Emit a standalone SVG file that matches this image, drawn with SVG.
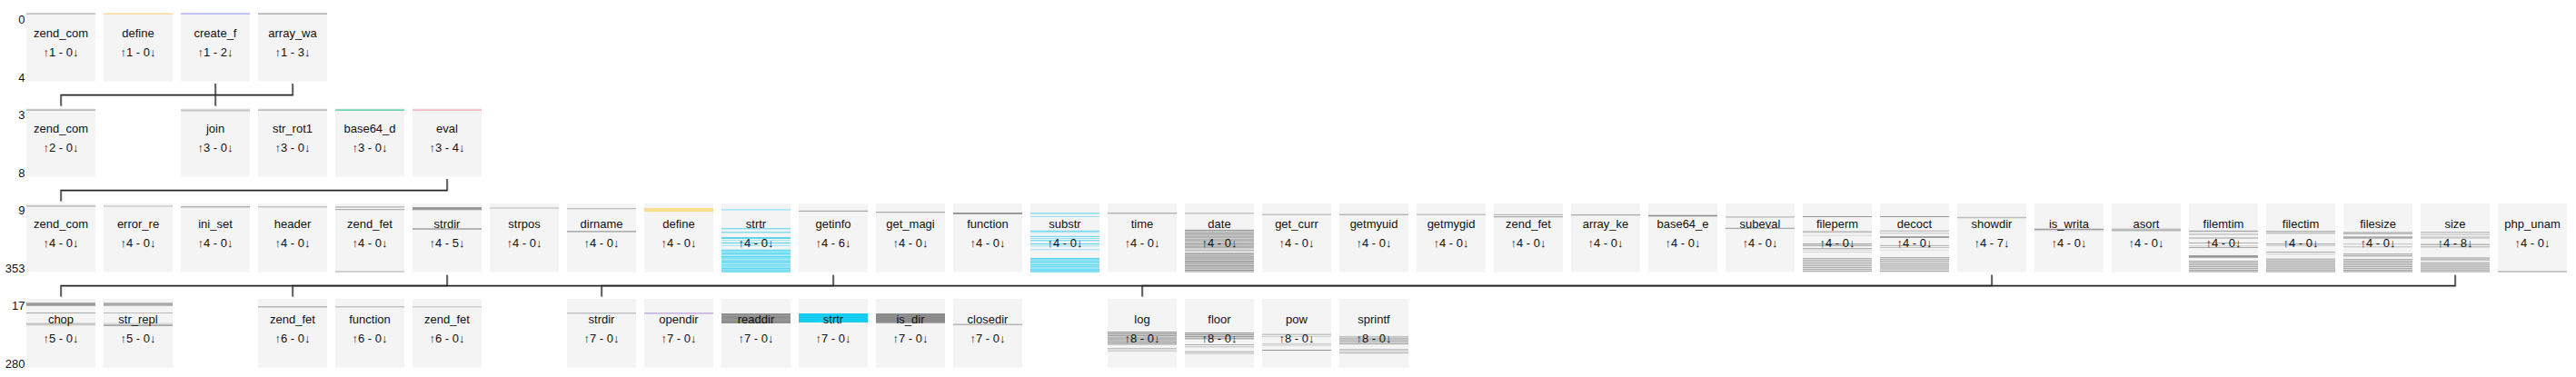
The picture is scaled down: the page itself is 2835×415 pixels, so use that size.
<svg xmlns="http://www.w3.org/2000/svg" width="2835" height="415" viewBox="0 0 2835 415">
<style>
.bg{fill:#f4f4f4}
text{font-family:"Liberation Sans",Arial,sans-serif;font-size:13px;fill:#111}
.nm,.ct{text-anchor:middle}
.rk{text-anchor:end}
.s{fill:none}
.cn path{fill:none;stroke:#222;stroke-width:1.3}
.cs path{fill:none;stroke:#bdbdbd;stroke-width:1}
</style>
<rect width="2835" height="415" fill="#fff"/>
<g id="rank-labels">
<text class="rk" x="27.5" y="25.5">0</text><text class="rk" x="27.5" y="90">4</text>
<text class="rk" x="27.5" y="130.5">3</text><text class="rk" x="27.5" y="195">8</text>
<text class="rk" x="27.5" y="235.5">9</text><text class="rk" x="27.5" y="300">353</text>
<text class="rk" x="27.5" y="340.5">17</text><text class="rk" x="27.5" y="405">280</text>
</g>
<g id="connectors">
<g class="cs" transform="translate(1,1)">
<path d="M322 92V104.5H67V116.5"/><path d="M237 92V116.5"/>
<path d="M492 197V209.5H67V221.5"/>
<path d="M492 302.5V314.5H67V326.5"/><path d="M917 302.5V314.5H322V326.5"/>
<path d="M2192 302.5V314.5H662V326.5"/><path d="M2702 302.5V314.5H1257V326.5"/>
</g>
<g class="cn">
<path d="M322 92V104.5H67V116.5"/><path d="M237 92V116.5"/>
<path d="M492 197V209.5H67V221.5"/>
<path d="M492 302.5V314.5H67V326.5"/><path d="M917 302.5V314.5H322V326.5"/>
<path d="M2192 302.5V314.5H662V326.5"/><path d="M2702 302.5V314.5H1257V326.5"/>
</g>
</g>

<!-- row 1 -->
<g id="r1c0-zend_com" class="node" transform="translate(29,14)"><rect class="bg" width="76" height="75.5"/><path class="s" d="M0 1.1H76" stroke="#b0b0b0" stroke-width="1.3"/><text class="nm" x="38" y="27">zend_com</text><text class="ct" x="38" y="48">↑1 - 0↓</text></g>
<g id="r1c1-define" class="node" transform="translate(114,14)"><rect class="bg" width="76" height="75.5"/><path class="s" d="M0 1.1H76" stroke="#f8d98a" stroke-width="1.3"/><text class="nm" x="38" y="27">define</text><text class="ct" x="38" y="48">↑1 - 0↓</text></g>
<g id="r1c2-create_f" class="node" transform="translate(199,14)"><rect class="bg" width="76" height="75.5"/><path class="s" d="M0 1.1H76" stroke="#a8a8f0" stroke-width="1.3"/><text class="nm" x="38" y="27">create_f</text><text class="ct" x="38" y="48">↑1 - 2↓</text></g>
<g id="r1c3-array_wa" class="node" transform="translate(284,14)"><rect class="bg" width="76" height="75.5"/><path class="s" d="M0 1.1H76" stroke="#a0a0a0" stroke-width="1.3"/><text class="nm" x="38" y="27">array_wa</text><text class="ct" x="38" y="48">↑1 - 3↓</text></g>

<!-- row 2 -->
<g id="r2c0-zend_com" class="node" transform="translate(29,119)"><rect class="bg" width="76" height="75.5"/><path class="s" d="M0 2.1H76" stroke="#a0a0a0" stroke-width="1.3"/><text class="nm" x="38" y="27">zend_com</text><text class="ct" x="38" y="48">↑2 - 0↓</text></g>
<g id="r2c2-join" class="node" transform="translate(199,119)"><rect class="bg" width="76" height="75.5"/><path class="s" d="M0 2.4H76" stroke="#c4c4c4" stroke-width="2"/><text class="nm" x="38" y="27">join</text><text class="ct" x="38" y="48">↑3 - 0↓</text></g>
<g id="r2c3-str_rot1" class="node" transform="translate(284,119)"><rect class="bg" width="76" height="75.5"/><path class="s" d="M0 2.1H76" stroke="#a8a8a8" stroke-width="1.3"/><text class="nm" x="38" y="27">str_rot1</text><text class="ct" x="38" y="48">↑3 - 0↓</text></g>
<g id="r2c4-base64_d" class="node" transform="translate(369,119)"><rect class="bg" width="76" height="75.5"/><path class="s" d="M0 2.1H76" stroke="#40c8a0" stroke-width="1.3"/><text class="nm" x="38" y="27">base64_d</text><text class="ct" x="38" y="48">↑3 - 0↓</text></g>
<g id="r2c5-eval" class="node" transform="translate(454,119)"><rect class="bg" width="76" height="75.5"/><path class="s" d="M0 2.1H76" stroke="#f4a4b8" stroke-width="1.3"/><text class="nm" x="38" y="27">eval</text><text class="ct" x="38" y="48">↑3 - 4↓</text></g>

<!-- row 3 -->
<g id="r3c0-zend_com" class="node" transform="translate(29,224)"><rect class="bg" width="76" height="75.5"/><path class="s" d="M0 2.9H76" stroke="#b0b0b0" stroke-width="1.3"/><text class="nm" x="38" y="27">zend_com</text><text class="ct" x="38" y="48">↑4 - 0↓</text></g>
<g id="r3c1-error_re" class="node" transform="translate(114,224)"><rect class="bg" width="76" height="75.5"/><path class="s" d="M0 3H76" stroke="#cccccc" stroke-width="1.5"/><text class="nm" x="38" y="27">error_re</text><text class="ct" x="38" y="48">↑4 - 0↓</text></g>
<g id="r3c2-ini_set" class="node" transform="translate(199,224)"><rect class="bg" width="76" height="75.5"/><path class="s" d="M0 3.8H76" stroke="#909090" stroke-width="1"/><text class="nm" x="38" y="27">ini_set</text><text class="ct" x="38" y="48">↑4 - 0↓</text></g>
<g id="r3c3-header" class="node" transform="translate(284,224)"><rect class="bg" width="76" height="75.5"/><path class="s" d="M0 3.8H76" stroke="#a8a8a8" stroke-width="1"/><text class="nm" x="38" y="27">header</text><text class="ct" x="38" y="48">↑4 - 0↓</text></g>
<g id="r3c4-zend_fet" class="node" transform="translate(369,224)"><rect class="bg" width="76" height="75.5"/><path class="s" d="M0 3.9H76M0 6.6H76" stroke="#b0b0b0" stroke-width="1.2"/><path class="s" d="M0 75H76" stroke="#aaaaaa" stroke-width="1"/><text class="nm" x="38" y="27">zend_fet</text><text class="ct" x="38" y="48">↑4 - 0↓</text></g>
<g id="r3c5-strdir" class="node" transform="translate(454,224)"><rect class="bg" width="76" height="75.5"/><path class="s" d="M0 5.6H76" stroke="#9a9a9a" stroke-width="3.3"/><path class="s" d="M0 28H76" stroke="#a0a0a0" stroke-width="1.5"/><text class="nm" x="38" y="27">strdir</text><text class="ct" x="38" y="48">↑4 - 5↓</text></g>
<g id="r3c6-strpos" class="node" transform="translate(539,224)"><rect class="bg" width="76" height="75.5"/><path class="s" d="M0 5H76" stroke="#cccccc" stroke-width="1.5"/><text class="nm" x="38" y="27">strpos</text><text class="ct" x="38" y="48">↑4 - 0↓</text></g>
<g id="r3c7-dirname" class="node" transform="translate(624,224)"><rect class="bg" width="76" height="75.5"/><path class="s" d="M0 5.6H76" stroke="#bbbbbb" stroke-width="1.2"/><path class="s" d="M0 30.9H76" stroke="#999999" stroke-width="1.2"/><text class="nm" x="38" y="27">dirname</text><text class="ct" x="38" y="48">↑4 - 0↓</text></g>
<g id="r3c8-define" class="node" transform="translate(709,224)"><rect class="bg" width="76" height="75.5"/><path class="s" d="M0 7H76" stroke="#f8dc8a" stroke-width="4"/><text class="nm" x="38" y="27">define</text><text class="ct" x="38" y="48">↑4 - 0↓</text></g>
<g id="r3c9-strtr" class="node" transform="translate(794,224)"><rect class="bg" width="76" height="75.5"/><rect y="50.5" width="76" height="25" fill="#cdf2fb"/><path class="s" d="M0 6.9H76M0 40.8H76M0 46.2H76M0 52.5H76M0 57H76M0 61.3H76M0 65.5H76M0 70.2H76M0 74.3H76" stroke="#8fe2f5" stroke-width="1.1"/><path class="s" d="M0 27.8H76M0 31.8H76M0 43.5H76M0 51.3H76M0 54H76M0 55.6H76M0 58.5H76M0 60H76M0 63H76M0 64.3H76M0 67.2H76M0 69H76M0 71.6H76M0 73.1H76M0 75.1H76" stroke="#3fcfee" stroke-width="0.9"/><path class="s" d="M0 38H76" stroke="#30ccea" stroke-width="1.5"/><text class="nm" x="38" y="27">strtr</text><text class="ct" x="38" y="48">↑4 - 0↓</text></g>
<g id="r3c10-getinfo" class="node" transform="translate(879,224)"><rect class="bg" width="76" height="75.5"/><path class="s" d="M0 8.4H76" stroke="#aaaaaa" stroke-width="1.3"/><text class="nm" x="38" y="27">getinfo</text><text class="ct" x="38" y="48">↑4 - 6↓</text></g>
<g id="r3c11-get_magi" class="node" transform="translate(964,224)"><rect class="bg" width="76" height="75.5"/><path class="s" d="M0 9.7H76" stroke="#aaaaaa" stroke-width="1.3"/><text class="nm" x="38" y="27">get_magi</text><text class="ct" x="38" y="48">↑4 - 0↓</text></g>
<g id="r3c12-function" class="node" transform="translate(1049,224)"><rect class="bg" width="76" height="75.5"/><path class="s" d="M0 10.9H76" stroke="#8c8c8c" stroke-width="1.7"/><text class="nm" x="38" y="27">function</text><text class="ct" x="38" y="48">↑4 - 0↓</text></g>
<g id="r3c13-substr" class="node" transform="translate(1134,224)"><rect class="bg" width="76" height="75.5"/><rect y="60" width="76" height="15.5" fill="#cdf2fb"/><path class="s" d="M0 14.4H76M0 31.8H76M0 38.5H76M0 46.8H76M0 50.8H76M0 61.5H76M0 66.2H76M0 70.8H76" stroke="#8fe2f5" stroke-width="1"/><path class="s" d="M0 10.9H76M0 30.3H76M0 36.3H76M0 40.8H76M0 44.5H76M0 60.5H76M0 63H76M0 64.7H76M0 67.7H76M0 69.3H76M0 72.2H76M0 73.8H76M0 75.1H76" stroke="#3fcfee" stroke-width="0.9"/><text class="nm" x="38" y="27">substr</text><text class="ct" x="38" y="48">↑4 - 0↓</text></g>
<g id="r3c14-time" class="node" transform="translate(1219,224)"><rect class="bg" width="76" height="75.5"/><path class="s" d="M0 10.8H76" stroke="#999999" stroke-width="1"/><text class="nm" x="38" y="27">time</text><text class="ct" x="38" y="48">↑4 - 0↓</text></g>
<g id="r3c15-date" class="node" transform="translate(1304,224)"><rect class="bg" width="76" height="75.5"/><rect y="28.7" width="76" height="46.8" fill="#cccccc"/><rect y="50" width="76" height="4" fill="#dedede"/><path class="s" d="M0 10.9H76" stroke="#bbbbbb" stroke-width="1.3"/><path class="s" d="M0 29.5H76M0 33.2H76M0 37H76M0 40H76M0 44.5H76M0 48H76M0 55.5H76M0 58H76M0 61H76M0 63.5H76M0 66H76M0 68.5H76M0 71H76M0 73.5H76" stroke="#9a9a9a" stroke-width="1"/><path class="s" d="M0 31.3H76M0 35H76M0 42H76M0 46.3H76M0 51.5H76M0 59.6H76M0 64.8H76M0 70H76M0 75H76" stroke="#b4b4b4" stroke-width="1"/><text class="nm" x="38" y="27">date</text><text class="ct" x="38" y="48">↑4 - 0↓</text></g>
<g id="r3c16-get_curr" class="node" transform="translate(1389,224)"><rect class="bg" width="76" height="75.5"/><path class="s" d="M0 12.2H76" stroke="#aaaaaa" stroke-width="1"/><text class="nm" x="38" y="27">get_curr</text><text class="ct" x="38" y="48">↑4 - 0↓</text></g>
<g id="r3c17-getmyuid" class="node" transform="translate(1474,224)"><rect class="bg" width="76" height="75.5"/><path class="s" d="M0 12.2H76" stroke="#999999" stroke-width="1"/><text class="nm" x="38" y="27">getmyuid</text><text class="ct" x="38" y="48">↑4 - 0↓</text></g>
<g id="r3c18-getmygid" class="node" transform="translate(1559,224)"><rect class="bg" width="76" height="75.5"/><path class="s" d="M0 12.2H76" stroke="#aaaaaa" stroke-width="1"/><text class="nm" x="38" y="27">getmygid</text><text class="ct" x="38" y="48">↑4 - 0↓</text></g>
<g id="r3c19-zend_fet" class="node" transform="translate(1644,224)"><rect class="bg" width="76" height="75.5"/><path class="s" d="M0 12.3H76" stroke="#bbbbbb" stroke-width="1.2"/><path class="s" d="M0 14.6H76" stroke="#aaaaaa" stroke-width="1.2"/><text class="nm" x="38" y="27">zend_fet</text><text class="ct" x="38" y="48">↑4 - 0↓</text></g>
<g id="r3c20-array_ke" class="node" transform="translate(1729,224)"><rect class="bg" width="76" height="75.5"/><path class="s" d="M0 12.7H76" stroke="#aaaaaa" stroke-width="1.3"/><text class="nm" x="38" y="27">array_ke</text><text class="ct" x="38" y="48">↑4 - 0↓</text></g>
<g id="r3c21-base64_e" class="node" transform="translate(1814,224)"><rect class="bg" width="76" height="75.5"/><path class="s" d="M0 13.5H76" stroke="#888888" stroke-width="1.7"/><text class="nm" x="38" y="27">base64_e</text><text class="ct" x="38" y="48">↑4 - 0↓</text></g>
<g id="r3c22-subeval" class="node" transform="translate(1899,224)"><rect class="bg" width="76" height="75.5"/><path class="s" d="M0 14.8H76" stroke="#c8c8c8" stroke-width="1.7"/><path class="s" d="M0 27.3H76" stroke="#aaaaaa" stroke-width="1.3"/><text class="nm" x="38" y="27">subeval</text><text class="ct" x="38" y="48">↑4 - 0↓</text></g>
<g id="r3c23-fileperm" class="node" transform="translate(1984,224)"><rect class="bg" width="76" height="75.5"/><rect y="60" width="76" height="15.5" fill="#e0e0e0"/><path class="s" d="M0 14.5H76" stroke="#999999" stroke-width="1"/><path class="s" d="M0 31.3H76" stroke="#c0c0c0" stroke-width="2"/><path class="s" d="M0 35.2H76M0 53.5H76" stroke="#d8d8d8" stroke-width="1"/><path class="s" d="M0 44.6H76" stroke="#a0a0a0" stroke-width="1.3"/><path class="s" d="M0 46.5H76M0 49.5H76M0 60.5H76M0 62.5H76M0 64.5H76M0 66.5H76M0 68.5H76M0 70.5H76M0 72.5H76M0 74.5H76" stroke="#b0b0b0" stroke-width="1"/><path class="s" d="M0 51H76" stroke="#cccccc" stroke-width="1"/><text class="nm" x="38" y="27">fileperm</text><text class="ct" x="38" y="48">↑4 - 0↓</text></g>
<g id="r3c24-decoct" class="node" transform="translate(2069,224)"><rect class="bg" width="76" height="75.5"/><rect y="59" width="76" height="16.5" fill="#e0e0e0"/><path class="s" d="M0 14.5H76" stroke="#999999" stroke-width="1"/><path class="s" d="M0 30.2H76M0 46.4H76M0 59.5H76M0 61.5H76M0 63.5H76M0 66H76M0 68H76M0 70H76M0 72H76M0 74.5H76" stroke="#aeaeae" stroke-width="1"/><path class="s" d="M0 32.8H76M0 48.5H76" stroke="#c4c4c4" stroke-width="1"/><path class="s" d="M0 37H76" stroke="#888888" stroke-width="1.3"/><path class="s" d="M0 51.2H76" stroke="#dddddd" stroke-width="1"/><text class="nm" x="38" y="27">decoct</text><text class="ct" x="38" y="48">↑4 - 0↓</text></g>
<g id="r3c25-showdir" class="node" transform="translate(2154,224)"><rect class="bg" width="76" height="75.5"/><path class="s" d="M0 15.5H76" stroke="#bbbbbb" stroke-width="1.7"/><text class="nm" x="38" y="27">showdir</text><text class="ct" x="38" y="48">↑4 - 7↓</text></g>
<g id="r3c26-is_writa" class="node" transform="translate(2239,224)"><rect class="bg" width="76" height="75.5"/><path class="s" d="M0 28.3H76" stroke="#999999" stroke-width="1.3"/><path class="s" d="M0 29.8H76" stroke="#cccccc" stroke-width="1"/><text class="nm" x="38" y="27">is_writa</text><text class="ct" x="38" y="48">↑4 - 0↓</text></g>
<g id="r3c27-asort" class="node" transform="translate(2324,224)"><rect class="bg" width="76" height="75.5"/><path class="s" d="M0 28.2H76" stroke="#aaaaaa" stroke-width="1"/><path class="s" d="M0 29.8H76" stroke="#999999" stroke-width="1"/><text class="nm" x="38" y="27">asort</text><text class="ct" x="38" y="48">↑4 - 0↓</text></g>
<g id="r3c28-filemtim" class="node" transform="translate(2409,224)"><rect class="bg" width="76" height="75.5"/><rect y="63" width="76" height="12.5" fill="#dddddd"/><path class="s" d="M0 30.5H76" stroke="#aaaaaa" stroke-width="1.6"/><path class="s" d="M0 33.8H76" stroke="#cccccc" stroke-width="1.7"/><path class="s" d="M0 38H76" stroke="#bbbbbb" stroke-width="1.4"/><path class="s" d="M0 43.5H76M0 48.5H76M0 63.5H76M0 65.5H76M0 67.5H76M0 69.5H76M0 71.5H76M0 73.5H76M0 75H76" stroke="#aaaaaa" stroke-width="1"/><path class="s" d="M0 46.8H76" stroke="#cccccc" stroke-width="1"/><path class="s" d="M0 58.3H76" stroke="#999999" stroke-width="2.7"/><text class="nm" x="38" y="27">filemtim</text><text class="ct" x="38" y="48">↑4 - 0↓</text></g>
<g id="r3c29-filectim" class="node" transform="translate(2494,224)"><rect class="bg" width="76" height="75.5"/><rect y="60.7" width="76" height="14.8" fill="#dddddd"/><path class="s" d="M0 30.8H76" stroke="#999999" stroke-width="1"/><path class="s" d="M0 32.8H76M0 44.5H76M0 53.5H76M0 61.2H76M0 63.2H76M0 65.2H76M0 67.2H76M0 69.2H76M0 71.2H76M0 73.2H76M0 75H76" stroke="#aaaaaa" stroke-width="1"/><path class="s" d="M0 46.2H76" stroke="#bbbbbb" stroke-width="1"/><path class="s" d="M0 55.8H76" stroke="#cccccc" stroke-width="1"/><text class="nm" x="38" y="27">filectim</text><text class="ct" x="38" y="48">↑4 - 0↓</text></g>
<g id="r3c30-filesize" class="node" transform="translate(2579,224)"><rect class="bg" width="76" height="75.5"/><rect y="61" width="76" height="14.5" fill="#dddddd"/><path class="s" d="M0 32.6H76" stroke="#bbbbbb" stroke-width="2.7"/><path class="s" d="M0 37.5H76" stroke="#aaaaaa" stroke-width="2.4"/><path class="s" d="M0 44.6H76" stroke="#cccccc" stroke-width="1.3"/><path class="s" d="M0 47.8H76" stroke="#bbbbbb" stroke-width="1"/><path class="s" d="M0 55.8H76M0 57.8H76" stroke="#999999" stroke-width="1"/><path class="s" d="M0 61.5H76M0 63.5H76M0 65.5H76M0 67.5H76M0 69.5H76M0 71.5H76M0 73.5H76M0 75H76" stroke="#aaaaaa" stroke-width="1"/><text class="nm" x="38" y="27">filesize</text><text class="ct" x="38" y="48">↑4 - 0↓</text></g>
<g id="r3c31-size" class="node" transform="translate(2664,224)"><rect class="bg" width="76" height="75.5"/><rect y="64.7" width="76" height="10.8" fill="#dddddd"/><path class="s" d="M0 31.8H76M0 47.8H76M0 65.2H76M0 67.2H76M0 69.2H76M0 71.2H76M0 73.2H76M0 75H76" stroke="#aaaaaa" stroke-width="1"/><path class="s" d="M0 34.2H76" stroke="#bbbbbb" stroke-width="1"/><path class="s" d="M0 37.5H76" stroke="#cccccc" stroke-width="2.4"/><path class="s" d="M0 45.2H76" stroke="#999999" stroke-width="1"/><path class="s" d="M0 61H76" stroke="#c4c4c4" stroke-width="4"/><text class="nm" x="38" y="27">size</text><text class="ct" x="38" y="48">↑4 - 8↓</text></g>
<g id="r3c32-php_unam" class="node" transform="translate(2749,224)"><rect class="bg" width="76" height="75.5"/><path class="s" d="M0 75H76" stroke="#999999" stroke-width="1"/><text class="nm" x="38" y="27">php_unam</text><text class="ct" x="38" y="48">↑4 - 0↓</text></g>

<!-- row 4 -->
<g id="r4c0-chop" class="node" transform="translate(29,329)"><rect class="bg" width="76" height="75.5"/><path class="s" d="M0 6H76" stroke="#9a9a9a" stroke-width="3.4"/><path class="s" d="M0 15.5H76M0 27.2H76" stroke="#aaaaaa" stroke-width="1"/><path class="s" d="M0 28.8H76" stroke="#bbbbbb" stroke-width="1"/><text class="nm" x="38" y="27">chop</text><text class="ct" x="38" y="48">↑5 - 0↓</text></g>
<g id="r4c1-str_repl" class="node" transform="translate(114,329)"><rect class="bg" width="76" height="75.5"/><path class="s" d="M0 6H76" stroke="#aaaaaa" stroke-width="3.4"/><path class="s" d="M0 15.5H76" stroke="#bbbbbb" stroke-width="1"/><path class="s" d="M0 27.2H76" stroke="#cccccc" stroke-width="1"/><path class="s" d="M0 29.2H76" stroke="#888888" stroke-width="1.3"/><text class="nm" x="38" y="27">str_repl</text><text class="ct" x="38" y="48">↑5 - 0↓</text></g>
<g id="r4c3-zend_fet" class="node" transform="translate(284,329)"><rect class="bg" width="76" height="75.5"/><path class="s" d="M0 8.8H76" stroke="#999999" stroke-width="1"/><text class="nm" x="38" y="27">zend_fet</text><text class="ct" x="38" y="48">↑6 - 0↓</text></g>
<g id="r4c4-function" class="node" transform="translate(369,329)"><rect class="bg" width="76" height="75.5"/><path class="s" d="M0 8.8H76" stroke="#aaaaaa" stroke-width="1"/><text class="nm" x="38" y="27">function</text><text class="ct" x="38" y="48">↑6 - 0↓</text></g>
<g id="r4c5-zend_fet" class="node" transform="translate(454,329)"><rect class="bg" width="76" height="75.5"/><path class="s" d="M0 8.8H76" stroke="#bbbbbb" stroke-width="1"/><text class="nm" x="38" y="27">zend_fet</text><text class="ct" x="38" y="48">↑6 - 0↓</text></g>
<g id="r4c7-strdir" class="node" transform="translate(624,329)"><rect class="bg" width="76" height="75.5"/><path class="s" d="M0 15.8H76" stroke="#aaaaaa" stroke-width="1"/><text class="nm" x="38" y="27">strdir</text><text class="ct" x="38" y="48">↑7 - 0↓</text></g>
<g id="r4c8-opendir" class="node" transform="translate(709,329)"><rect class="bg" width="76" height="75.5"/><path class="s" d="M0 15.8H76" stroke="#b8a0d8" stroke-width="1.3"/><text class="nm" x="38" y="27">opendir</text><text class="ct" x="38" y="48">↑7 - 0↓</text></g>
<g id="r4c9-readdir" class="node" transform="translate(794,329)"><rect class="bg" width="76" height="75.5"/><rect y="16" width="76" height="11" fill="#8e8e8e"/><path class="s" d="M0 18.5H76M0 23H76" stroke="#9c9c9c" stroke-width="1"/><text class="nm" x="38" y="27">readdir</text><text class="ct" x="38" y="48">↑7 - 0↓</text></g>
<g id="r4c10-strtr" class="node" transform="translate(879,329)"><rect class="bg" width="76" height="75.5"/><rect y="16" width="76" height="10" fill="#14cdf0"/><text class="nm" x="38" y="27">strtr</text><text class="ct" x="38" y="48">↑7 - 0↓</text></g>
<g id="r4c11-is_dir" class="node" transform="translate(964,329)"><rect class="bg" width="76" height="75.5"/><rect y="16" width="76" height="10.7" fill="#8c8c8c"/><text class="nm" x="38" y="27">is_dir</text><text class="ct" x="38" y="48">↑7 - 0↓</text></g>
<g id="r4c12-closedir" class="node" transform="translate(1049,329)"><rect class="bg" width="76" height="75.5"/><path class="s" d="M0 28.2H76" stroke="#999999" stroke-width="1"/><text class="nm" x="38" y="27">closedir</text><text class="ct" x="38" y="48">↑7 - 0↓</text></g>
<g id="r4c14-log" class="node" transform="translate(1219,329)"><rect class="bg" width="76" height="75.5"/><rect y="36" width="76" height="14.3" fill="#d0d0d0"/><path class="s" d="M0 36.5H76M0 38.5H76M0 40.5H76M0 43H76M0 45H76M0 47.5H76M0 49.8H76" stroke="#9c9c9c" stroke-width="1"/><path class="s" d="M0 54.8H76" stroke="#aaaaaa" stroke-width="1"/><path class="s" d="M0 57.2H76" stroke="#bbbbbb" stroke-width="1"/><text class="nm" x="38" y="27">log</text><text class="ct" x="38" y="48">↑8 - 0↓</text></g>
<g id="r4c15-floor" class="node" transform="translate(1304,329)"><rect class="bg" width="76" height="75.5"/><rect y="37" width="76" height="7.3" fill="#d4d4d4"/><path class="s" d="M0 37.5H76M0 39.5H76M0 41.5H76M0 43.8H76" stroke="#9c9c9c" stroke-width="1"/><path class="s" d="M0 50.5H76M0 58.2H76" stroke="#aaaaaa" stroke-width="1"/><path class="s" d="M0 52.8H76M0 60.2H76" stroke="#bbbbbb" stroke-width="1"/><text class="nm" x="38" y="27">floor</text><text class="ct" x="38" y="48">↑8 - 0↓</text></g>
<g id="r4c16-pow" class="node" transform="translate(1389,329)"><rect class="bg" width="76" height="75.5"/><path class="s" d="M0 39.2H76" stroke="#aaaaaa" stroke-width="1"/><path class="s" d="M0 41.5H76" stroke="#cccccc" stroke-width="1"/><path class="s" d="M0 49.8H76" stroke="#bbbbbb" stroke-width="1"/><path class="s" d="M0 51.5H76" stroke="#dddddd" stroke-width="1"/><path class="s" d="M0 56.5H76" stroke="#999999" stroke-width="1"/><text class="nm" x="38" y="27">pow</text><text class="ct" x="38" y="48">↑8 - 0↓</text></g>
<g id="r4c17-sprintf" class="node" transform="translate(1474,329)"><rect class="bg" width="76" height="75.5"/><rect y="44.3" width="76" height="6" fill="#d8d8d8"/><path class="s" d="M0 41.5H76" stroke="#bbbbbb" stroke-width="1"/><path class="s" d="M0 43.2H76" stroke="#999999" stroke-width="1"/><path class="s" d="M0 45H76M0 47H76M0 49.5H76M0 55.8H76M0 59.5H76" stroke="#aaaaaa" stroke-width="1"/><path class="s" d="M0 57.5H76" stroke="#cccccc" stroke-width="1"/><text class="nm" x="38" y="27">sprintf</text><text class="ct" x="38" y="48">↑8 - 0↓</text></g>
</svg>
